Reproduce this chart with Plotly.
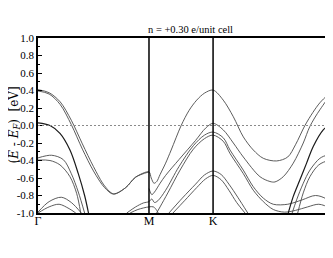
import plotly.graph_objects as go

# High-symmetry points along the k-path (Γ-M-K-Γ), in units of |ΓM|
kpt_labels = ["Γ", "M", "K"]
kpt_pos = [0.0, 1.0, 1.5774]
k_visible_max = 2.658
title_text = "n = +0.30 e/unit cell"
ytitle_text = "(<i>E</i> - <i>E</i><sub><i>F</i></sub>)&nbsp;&nbsp;[eV]"

ytick_vals = [1.0, 0.8, 0.6, 0.4, 0.2, 0.0, -0.2, -0.4, -0.6, -0.8, -1.0]
ytick_text = ["1.0", "0.8", "0.6", "0.4", "0.2", "0.0", "-0.2", "-0.4", "-0.6", "-0.8", "-1.0"]

# ---- bands (k, E - E_F in eV) ----
A1_k = [0, 0.1, 0.2, 0.3, 0.4, 0.5, 0.6, 0.68, 0.79, 0.88, 1.0,
        1.02, 1.045, 1.07, 1.10, 1.15, 1.20, 1.29, 1.36, 1.43, 1.50, 1.5774,
        1.669, 1.76, 1.85, 1.94, 2.03, 2.15, 2.25, 2.32, 2.405, 2.477, 2.54, 2.604, 2.658, 2.732]
A1_E = [0.41, 0.375, 0.27, 0.06, -0.21, -0.47, -0.69, -0.78, -0.71, -0.59, -0.53,
        -0.60, -0.66, -0.64, -0.56, -0.43, -0.28, 0.0, 0.17, 0.29, 0.37, 0.405,
        0.29, 0.10, -0.13, -0.28, -0.375, -0.405, -0.36, -0.22, 0.0, 0.15, 0.26, 0.34, 0.385, 0.41]

A2_k = [0, 0.1, 0.2, 0.3, 0.4, 0.5, 0.6, 0.68, 0.79, 0.88, 1.0]
A2_E = [0.395, 0.36, 0.24, 0.01, -0.27, -0.52, -0.71, -0.785, -0.71, -0.59, -0.53]

T2_k = [1.0, 1.025, 1.05, 1.10, 1.15, 1.27, 1.42, 1.51, 1.5774,
        1.669, 1.76, 1.85, 2.0, 2.09, 2.135, 2.21, 2.30, 2.39, 2.45, 2.54, 2.658, 2.732]
T2_E = [-0.72, -0.79, -0.76, -0.66, -0.57, -0.39, -0.17, -0.03, 0.025,
        -0.05, -0.20, -0.36, -0.585, -0.64, -0.645, -0.585, -0.43, -0.20, -0.01, 0.18, 0.37, 0.40]

T3_k = [0.80, 0.88, 0.95, 1.0, 1.025, 1.05, 1.08, 1.15, 1.27, 1.40, 1.50, 1.5774,
        1.669, 1.73, 1.85, 1.94, 2.03, 2.12, 2.25, 2.38, 2.50, 2.60, 2.732]
T3_E = [-1.0, -0.93, -0.885, -0.87, -0.84, -0.88, -0.86, -0.74, -0.47, -0.23, -0.11, -0.075,
        -0.14, -0.28, -0.51, -0.70, -0.83, -0.90, -0.90, -0.85, -0.80, -0.84, -0.99]

T4_k = [1.06, 1.10, 1.17, 1.28, 1.40, 1.50, 1.5774,
        1.669, 1.73, 1.85, 1.94, 2.03, 2.12, 2.22, 2.32, 2.43, 2.53, 2.63, 2.732]
T4_E = [-1.02, -0.93, -0.77, -0.51, -0.27, -0.15, -0.11,
        -0.18, -0.32, -0.55, -0.74, -0.87, -0.96, -0.99, -0.97, -0.93, -0.90, -0.94, -1.0]

E2_k = [0.83, 0.90, 1.0, 1.04, 1.07, 1.09]
E2_E = [-1.0, -0.96, -0.93, -0.93, -0.97, -1.02]

L1_k = [1.18, 1.30, 1.42, 1.50, 1.5774, 1.65, 1.72, 1.80, 1.89]
L1_E = [-1.0, -0.83, -0.67, -0.565, -0.52, -0.56, -0.67, -0.82, -1.0]
L2_k = [1.216, 1.32, 1.43, 1.51, 1.5774, 1.65, 1.72, 1.79, 1.865]
L2_E = [-1.0, -0.86, -0.71, -0.61, -0.57, -0.62, -0.74, -0.88, -1.0]

B_left_k = [0, 0.108, 0.198, 0.288, 0.363, 0.42, 0.455]
B_left_E = [0.03, 0.0, -0.09, -0.28, -0.55, -0.80, -1.0]
B_right_k = [2.255, 2.30, 2.36, 2.42, 2.48, 2.57, 2.60, 2.658, 2.732]
B_right_E = [-1.0, -0.81, -0.62, -0.43, -0.24, -0.05, -0.02, 0.005, 0.03]

C1_left_k = [0, 0.123, 0.228, 0.30, 0.363, 0.42]
C1_left_E = [-0.37, -0.34, -0.39, -0.55, -0.76, -1.0]
C2_left_k = [0, 0.108, 0.198, 0.288, 0.348, 0.385]
C2_left_E = [-0.395, -0.40, -0.45, -0.585, -0.775, -1.0]
C1_right_k = [2.29, 2.33, 2.39, 2.45, 2.54, 2.61, 2.732]
C1_right_E = [-1.0, -0.85, -0.66, -0.51, -0.375, -0.34, -0.37]
C2_right_k = [2.34, 2.39, 2.45, 2.53, 2.62, 2.732]
C2_right_E = [-1.0, -0.77, -0.585, -0.45, -0.40, -0.395]

D1_k = [0, 0.1, 0.21, 0.30, 0.39]
D1_E = [-0.99, -0.87, -0.82, -0.88, -1.0]
D2_k = [0, 0.1, 0.19, 0.28, 0.34]
D2_E = [-1.0, -0.93, -0.90, -0.95, -1.0]

bands = [
    (A1_k, A1_E), (A2_k, A2_E), (T2_k, T2_E), (T3_k, T3_E), (T4_k, T4_E),
    (E2_k, E2_E), (L1_k, L1_E), (L2_k, L2_E),
    (C1_left_k, C1_left_E), (C2_left_k, C2_left_E),
    (C1_right_k, C1_right_E), (C2_right_k, C2_right_E),
    (D1_k, D1_E), (D2_k, D2_E),
]
dark_bands = [(B_left_k, B_left_E), (B_right_k, B_right_E)]

fig = go.Figure()
for k, e in bands:
    fig.add_trace(go.Scatter(x=k, y=e, mode="lines",
                             line=dict(color="#4a4a4a", width=0.9, shape="spline", smoothing=0.9),
                             hoverinfo="skip", showlegend=False))
for k, e in dark_bands:
    fig.add_trace(go.Scatter(x=k, y=e, mode="lines",
                             line=dict(color="#1a1a1a", width=1.2, shape="spline", smoothing=0.9),
                             hoverinfo="skip", showlegend=False))

shapes = [
    dict(type="line", xref="paper", yref="y", x0=0, x1=1, y0=0, y1=0,
         line=dict(color="#8a8a8a", width=1, dash="2px,2px")),
]
for p in kpt_pos[1:]:
    shapes.append(dict(type="line", xref="x", yref="paper", x0=p, x1=p, y0=0, y1=1,
                       line=dict(color="black", width=1.5)))

serif = "Liberation Serif"
fig.update_layout(
    width=325, height=250,
    margin=dict(l=30, r=0, t=30, b=45, autoexpand=False),
    paper_bgcolor="white", plot_bgcolor="white",
    font=dict(family=serif, size=11, color="black"),
    shapes=shapes,
    xaxis=dict(range=[0, k_visible_max], tickvals=kpt_pos, ticktext=kpt_labels,
               showgrid=False, zeroline=False, showline=True, linecolor="black",
               linewidth=1.5, mirror=True, ticks="", ticklabelstandoff=-4,
               tickfont=dict(size=12, family=serif)),
    yaxis=dict(range=[-1.0, 1.0], tickvals=ytick_vals, ticktext=ytick_text,
               showgrid=False, zeroline=False, showline=True, linecolor="black",
               linewidth=1.5, mirror=False, ticks="inside", ticklen=4, tickwidth=1,
               tickcolor="black", tickfont=dict(size=11, family=serif),
               minor=dict(dtick=0.1, tick0=0, ticks="inside", ticklen=2, tickcolor="black")),
    annotations=[
        dict(text=title_text, xref="paper", yref="paper", x=(190 - 38) / 295, y=(213 - 29) / 175,
             xanchor="center", yanchor="middle", showarrow=False, font=dict(size=10.5, family=serif)),
        dict(text=ytitle_text, xref="paper", yref="paper",
             x=(14 - 38) / 295, y=0.5, xanchor="center", yanchor="middle", textangle=-90,
             showarrow=False, font=dict(size=12, family="DejaVu Serif")),
    ],
)
fig.write_html("out.html")
